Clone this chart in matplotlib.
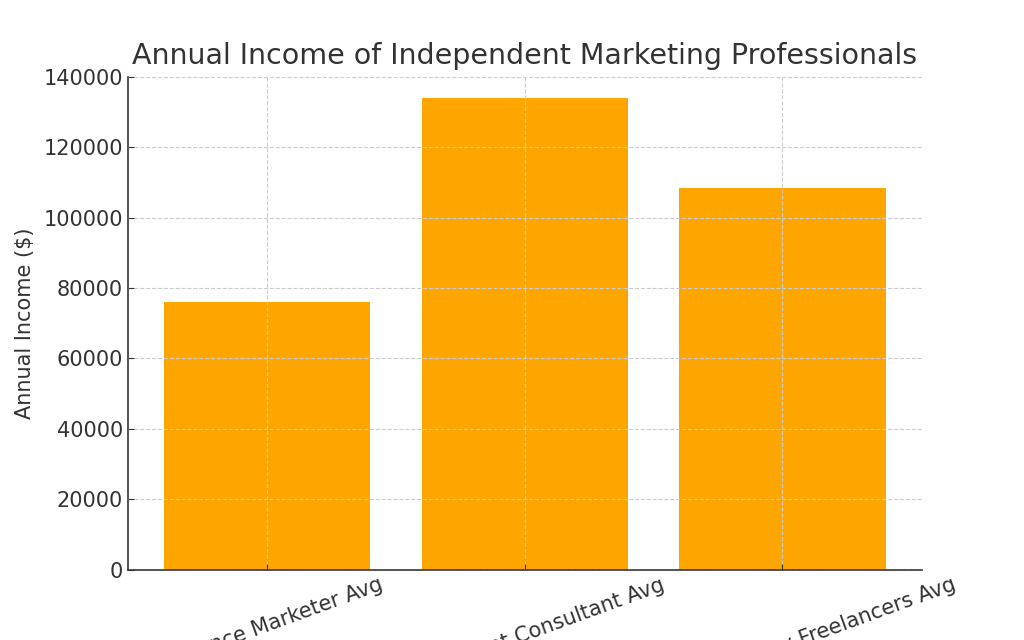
import matplotlib
matplotlib.use('Agg')
import matplotlib.pyplot as plt

# data
categories = ['Freelance Marketer Avg', 'Independent Consultant Avg',
              'Marketing Industry Freelancers Avg']
incomes = [76000, 134000, 108300]

text_color = '#333333'
plt.rcParams['font.family'] = ['DejaVu Sans']
plt.rcParams['text.color'] = text_color
plt.rcParams['axes.labelcolor'] = text_color
plt.rcParams['xtick.color'] = text_color
plt.rcParams['ytick.color'] = text_color

fig = plt.figure(figsize=(10.24, 6.4), dpi=100)
ax = fig.add_subplot(111)

ax.bar(categories, incomes, color='orange', width=0.8)

ax.set_title('Annual Income of Independent Marketing Professionals', fontsize=20.5, pad=9)
ax.set_ylabel('Annual Income ($)', fontsize=15, labelpad=6)
ax.set_ylim(0, 140000)

ax.tick_params(axis='both', direction='in', length=4, labelsize=15)
plt.setp(ax.get_xticklabels(), rotation=20, ha='center')

ax.grid(True, linestyle='--', color='#cccccc', linewidth=0.8)
ax.set_axisbelow(False)

for side in ['top', 'right']:
    ax.spines[side].set_visible(False)
for side in ['left', 'bottom']:
    ax.spines[side].set_color(text_color)
    ax.spines[side].set_linewidth(1.2)

fig.savefig('out.png', dpi=100)
